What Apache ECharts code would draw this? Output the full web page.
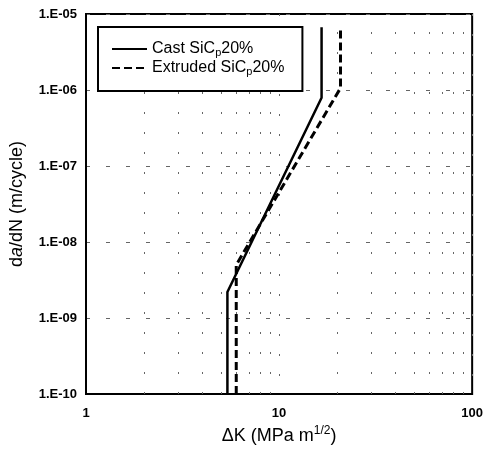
<!DOCTYPE html>
<html>
<head>
<meta charset="utf-8">
<script src="https://cdn.jsdelivr.net/npm/echarts@6/dist/echarts.min.js"></script>
<style>
  html, body { margin: 0; padding: 0; background: #fff; }
  #chart { width: 486px; height: 451px; }
</style>
</head>
<body>
<div id="chart"></div>
<script>
// Fatigue crack growth rate curves (log-log)
const castK = [5.4, 5.4, 16.6, 16.6];
const castRate = [1e-10, 2.2e-9, 7.9e-7, 6.7e-6];
const extrudedK = [6.0, 6.0, 20.8, 20.8];
const extrudedRate = [1e-10, 5e-9, 1.06e-6, 6.7e-6];

const xTickLabels = ['1', '10', '100'];
const yTickLabels = ['1.E-10', '1.E-09', '1.E-08', '1.E-07', '1.E-06', '1.E-05'];
// minor vertical grid positions (2..9 per decade)
const minorK = [2, 3, 4, 5, 6, 7, 8, 9, 20, 30, 40, 50, 60, 70, 80, 90];

const FONT = '"Liberation Sans", Arial, sans-serif';

function pairs(xs, ys) { return xs.map((x, i) => [x, ys[i]]); }

const chart = echarts.init(document.getElementById('chart'), null, { renderer: 'canvas' });

const gridDots = { color: '#666', width: 1, type: [2, 18] };

chart.setOption({
  animation: false,
  backgroundColor: '#fff',
  grid: {
    left: 85, right: 9, top: 14, bottom: 57,
    show: true, borderColor: '#000', borderWidth: 2, backgroundColor: 'transparent'
  },
  legend: {
    data: ['Cast', 'Extruded'],
    orient: 'vertical',
    left: 98, top: 27,
    backgroundColor: '#fff',
    borderColor: '#000', borderWidth: 2, borderRadius: 0,
    padding: [14, 18, 14, 13],
    itemWidth: 35, itemHeight: 14, itemGap: 2,
    itemStyle: { opacity: 0 },
    formatter: function (name) {
      return '{a|' + name + ' SiC}{s|p}{a|20%}';
    },
    textStyle: {
      color: '#000', fontFamily: FONT,
      rich: {
        a: { fontSize: 16, fontFamily: FONT, color: '#000', lineHeight: 18 },
        s: { fontSize: 11, fontFamily: FONT, color: '#000', verticalAlign: 'bottom', lineHeight: 18 }
      }
    }
  },
  xAxis: {
    type: 'log', logBase: 10, min: 1, max: 100,
    name: '{n|\u0394K (MPa m}{sup|1/2}{n|)}',
    nameLocation: 'middle', nameGap: 26,
    nameTextStyle: {
      rich: {
        n: { fontSize: 18, fontFamily: FONT, color: '#000', lineHeight: 22 },
        sup: { fontSize: 12, fontFamily: FONT, color: '#000', verticalAlign: 'top', lineHeight: 22 }
      }
    },
    axisLine: { show: true, lineStyle: { color: '#000', width: 2 } },
    axisTick: { show: false },
    axisLabel: {
      color: '#000', fontSize: 13, fontWeight: 'bold', fontFamily: FONT, margin: 13,
      formatter: v => xTickLabels[Math.round(Math.log10(v))]
    },
    splitLine: { show: true, lineStyle: gridDots }
  },
  yAxis: {
    type: 'log', logBase: 10, min: 1e-10, max: 1e-5,
    name: '{n|d}{i|a}{n|/dN (m/cycle)}',
    nameLocation: 'middle', nameGap: 60,
    nameTextStyle: {
      rich: {
        n: { fontSize: 18, fontFamily: FONT, color: '#000' },
        i: { fontSize: 18, fontFamily: FONT, color: '#000', fontStyle: 'italic' }
      }
    },
    axisLine: { show: true, lineStyle: { color: '#000', width: 2 } },
    axisTick: { show: false },
    axisLabel: {
      color: '#000', fontSize: 13, fontWeight: 'bold', fontFamily: FONT, margin: 9,
      formatter: v => yTickLabels[Math.round(Math.log10(v)) + 10]
    },
    splitLine: { show: true, lineStyle: { color: '#666', width: 1, type: [4, 16] } }
  },
  series: [
    {
      name: 'Cast', type: 'line', symbol: 'none', z: 5,
      data: pairs(castK, castRate),
      lineStyle: { color: '#000', width: 2.5, type: 'solid' },
      itemStyle: { color: '#000' },
      markLine: {
        silent: true, symbol: ['none', 'none'], z: 1,
        label: { show: false },
        lineStyle: gridDots,
        data: minorK.map(k => ({ xAxis: k }))
      }
    },
    {
      name: 'Extruded', type: 'line', symbol: 'none', z: 5,
      data: pairs(extrudedK, extrudedRate),
      lineStyle: { color: '#000', width: 3, type: [8, 4] },
      itemStyle: { color: '#000' }
    }
  ]
});
</script>
</body>
</html>
